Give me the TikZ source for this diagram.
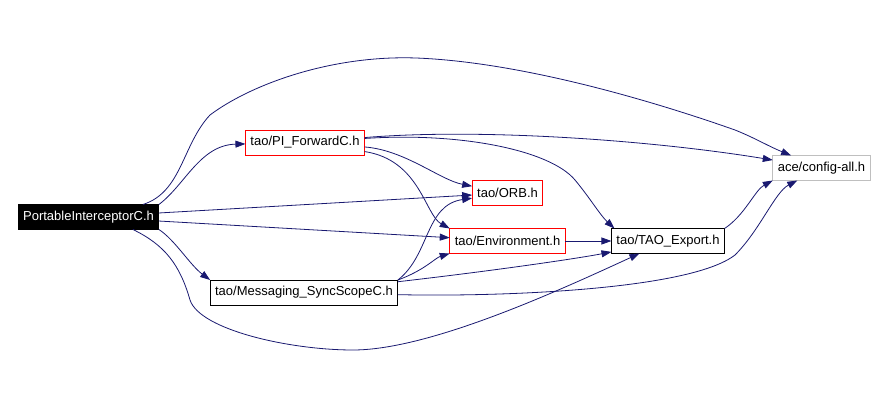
\documentclass[tikz,border=0pt]{standalone}
\usepackage{fontspec}
\setmainfont{Liberation Sans}
\usepackage{tikz}
\usetikzlibrary{arrows.meta}
\definecolor{depblue}{RGB}{25,25,112}
\definecolor{extgray}{RGB}{191,191,191}

\begin{document}
\begin{tikzpicture}[x=1pt,y=-1pt,
    every node/.style={draw, minimum height=25pt, inner xsep=5pt, inner ysep=0pt, outer sep=0pt, line width=0.8pt, font=\fontsize{13}{15}\selectfont},
    redfile/.style={draw=red},
    dep/.style={depblue, line width=0.8pt, -{Triangle[length=10pt,width=7pt]}}]
            \useasboundingbox (0,0) rectangle (888,411);
            % files
            \node[fill=black, text=white] (pic) at (88.5,217) {PortableInterceptorC.h};
            \node[redfile] (pi) at (305,142.5) {tao/PI\_ForwardC.h};
            \node[redfile] (orb) at (507.5,193) {tao/ORB.h};
            \node[redfile] (env) at (507.5,241) {tao/Environment.h};
            \node (tao) at (668,241) {tao/TAO\_Export.h};
            \node[draw=extgray] (cfg) at (821.5,168) {ace/config-all.h};
            \node (msg) at (304,292.5) {tao/Messaging\_SyncScopeC.h};
            % includes
            \draw[dep] ([xshift=-16pt]pic.north east) .. controls (182,192) and (182,145) .. (210,115) .. controls (250,85) and (330,55) .. (416,58) .. controls (520,62) and (650,100) .. (735,130) .. controls (755,138) and (768,146) .. (cfg);
            \draw[dep] (pic.north east) .. controls (185,185) and (200,145) .. (pi);
            \draw[dep] (pic) -- (orb);
            \draw[dep] (pic) -- (env);
            \draw[dep] (pic.south east) .. controls (175,240) and (190,265) .. (msg.north west);
            \draw[dep] ([xshift=-26pt]pic.south east) .. controls (165,245) and (180,265) .. (190,300) .. controls (200,330) and (290,350) .. (353,350) .. controls (430,350) and (560,290) .. ([xshift=28pt]tao.south west);
            \draw[dep] (pi) .. controls (480,128) and (650,140) .. (cfg);
            \draw[dep] (pi) .. controls (460,132) and (550,150) .. (575,180) .. controls (590,198) and (600,215) .. ([xshift=3pt]tao.north west);
            \draw[dep] (pi) .. controls (405,150) and (440,180) .. (orb);
            \draw[dep] (pi) .. controls (420,160) and (425,215) .. (env.north west);
            \draw[dep] (env) -- (tao);
            \draw[dep] (msg.north east) .. controls (430,255) and (425,205) .. (orb);
            \draw[dep] (msg.north east) .. controls (425,270) and (435,258) .. (env.south west);
            \draw[dep] (msg) .. controls (500,270) and (580,258) .. (tao);
            \draw[dep] (msg) .. controls (500,297) and (690,290) .. (735,255) .. controls (760,230) and (775,192) .. (cfg);
            \draw[dep] (tao.north east) .. controls (745,215) and (755,190) .. (cfg.south west);
        \end{tikzpicture}
\end{document}
